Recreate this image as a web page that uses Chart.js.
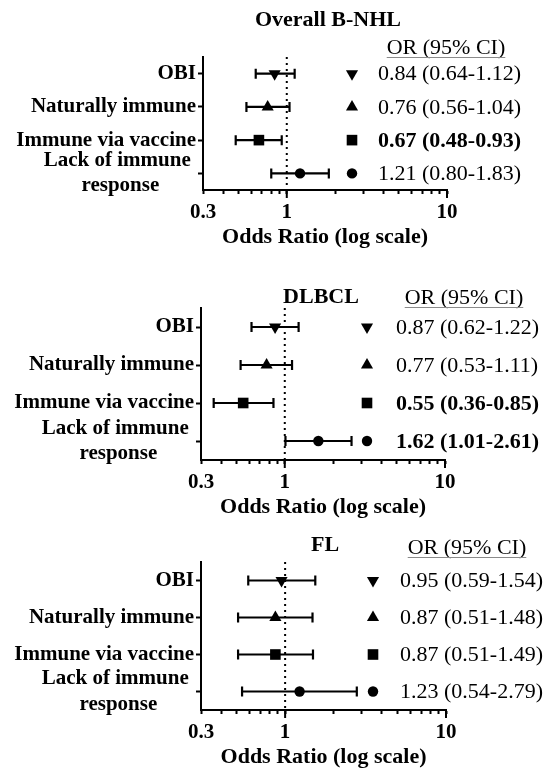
<!DOCTYPE html>
<html><head><meta charset="utf-8">
<script src="https://cdn.jsdelivr.net/npm/chart.js@4/dist/chart.umd.min.js"></script>
<style>
html,body{margin:0;padding:0;background:#fff;}
body{width:550px;height:768px;position:relative;overflow:hidden;}
canvas{position:absolute;left:0;}
</style></head><body>
<canvas id="c1"></canvas>
<canvas id="c2"></canvas>
<canvas id="c3"></canvas>
<script>
// ---------- data ----------
const categories = ['OBI', 'Naturally immune', 'Immune via vaccine', 'Lack of immune response'];
const panelTitles = ['Overall B-NHL', 'DLBCL', 'FL'];

const overallOR   = [0.84, 0.76, 0.67, 1.21];
const overallLow  = [0.64, 0.56, 0.48, 0.80];
const overallHigh = [1.12, 1.04, 0.93, 1.83];

const dlbclOR   = [0.87, 0.77, 0.55, 1.62];
const dlbclLow  = [0.62, 0.53, 0.36, 1.01];
const dlbclHigh = [1.22, 1.11, 0.85, 2.61];

const flOR   = [0.95, 0.87, 0.87, 1.23];
const flLow  = [0.59, 0.51, 0.51, 0.54];
const flHigh = [1.54, 1.48, 1.49, 2.79];

const xTickValues = [0.3, 0.4, 0.5, 0.6, 0.7, 0.8, 0.9, 1, 2, 3, 4, 5, 6, 7, 8, 9, 10];
const xTickLabels = ['0.3', '1', '10'];
const xMin = 0.3, xMax = 10;
const referenceValue = 1;
const xAxisTitle = 'Odds Ratio (log scale)';
const columnHeader = 'OR (95% CI)';

// ---------- styles / layout ----------
const FONT = "'Liberation Serif', 'Times New Roman', serif";
const markerStyles = ['triangle', 'triangle', 'rect', 'circle'];
const markerRotation = [180, 0, 0, 0];
const markerRadius = [7, 7, 7.5, 5.2];

const panelData = [
  {or: overallOR, lo: overallLow, hi: overallHigh},
  {or: dlbclOR, lo: dlbclLow, hi: dlbclHigh},
  {or: flOR, lo: flLow, hi: flHigh}
];
const layouts = [
  {id: 'c1', top: 0,   h: 258, chartTop: 57,  chartBottom: 190, left: 203, right: 447, titleX: 328, titleY: 20,  headX: 446, headY: 48,  markX: 352, textX: 378},
  {id: 'c2', top: 255, h: 275, chartTop: 308, chartBottom: 460, left: 201, right: 445, titleX: 321, titleY: 297, headX: 464, headY: 298, markX: 367, textX: 396},
  {id: 'c3', top: 515, h: 260, chartTop: 562, chartBottom: 710, left: 201, right: 446, titleX: 325, titleY: 545, headX: 467, headY: 548, markX: 373, textX: 400}
];
const TICK_GAP = 23;   // axis line -> tick label centre
const TITLE_GAP = 47;  // axis line -> axis title centre

function fmt(v) { return v.toFixed(2); }

function drawMarker(ctx, i, x, y) {
  ctx.save();
  ctx.fillStyle = '#000';
  ctx.strokeStyle = '#000';
  if (Chart.helpers && Chart.helpers.drawPoint) {
    Chart.helpers.drawPoint(ctx, {pointStyle: markerStyles[i], rotation: markerRotation[i], radius: markerRadius[i], borderWidth: 0}, x, y);
  }
  ctx.restore();
}

layouts.forEach((L, p) => {
  const d = panelData[p];
  const cv = document.getElementById(L.id);
  cv.style.top = L.top + 'px';
  cv.width = 550; cv.height = L.h;
  cv.style.width = '550px'; cv.style.height = L.h + 'px';

  const tickFont = {family: FONT, size: 21, weight: 'bold', lineHeight: 1.2};
  const titleFont = {family: FONT, size: 22, weight: 'bold', lineHeight: 1.2};
  const tickLen = 4;
  const xScaleHeight = TITLE_GAP + 22 * 1.2 / 2;
  const chartTopLocal = L.chartTop - L.top;
  const chartBottomLocal = L.chartBottom - L.top;
  const padBottom = L.h - chartBottomLocal - xScaleHeight;

  const overlay = {
    id: 'forestExtras' + p,
    beforeDatasetsDraw(chart) {
      const ctx = chart.ctx, xs = chart.scales.x, ys = chart.scales.y, ca = chart.chartArea;
      // dotted reference line
      ctx.save();
      ctx.strokeStyle = '#000';
      ctx.lineWidth = 2;
      ctx.setLineDash([2, 4]);
      const rx = xs.getPixelForValue(referenceValue);
      ctx.beginPath(); ctx.moveTo(rx, ca.top); ctx.lineTo(rx, ca.bottom); ctx.stroke();
      ctx.restore();
      // longer major ticks
      ctx.save();
      ctx.strokeStyle = '#000'; ctx.lineWidth = 2;
      xTickLabels.forEach(s => {
        const v = parseFloat(s);
        if (v <= xMin) return;
        const px = xs.getPixelForValue(v);
        ctx.beginPath(); ctx.moveTo(px, ca.bottom); ctx.lineTo(px, ca.bottom + 8); ctx.stroke();
      });
      ctx.restore();
      // error bars
      ctx.save();
      ctx.strokeStyle = '#000'; ctx.lineWidth = 2.2;
      categories.forEach((c, i) => {
        const y = ys.getPixelForValue(i);
        const x1 = xs.getPixelForValue(d.lo[i]);
        const x2 = xs.getPixelForValue(d.hi[i]);
        ctx.beginPath();
        ctx.moveTo(x1, y); ctx.lineTo(x2, y);
        ctx.moveTo(x1, y - 5); ctx.lineTo(x1, y + 5);
        ctx.moveTo(x2, y - 5); ctx.lineTo(x2, y + 5);
        ctx.stroke();
      });
      ctx.restore();
    },
    afterDraw(chart) {
      const ctx = chart.ctx, ys = chart.scales.y;
      ctx.save();
      ctx.fillStyle = '#000';
      ctx.textBaseline = 'middle';
      // panel title
      ctx.font = 'bold 22px ' + FONT;
      ctx.textAlign = 'center';
      ctx.fillText(panelTitles[p], L.titleX, L.titleY - L.top);
      // column header with underline
      ctx.font = '22px ' + FONT;
      ctx.fillText(columnHeader, L.headX, L.headY - L.top);
      const hw = ctx.measureText(columnHeader).width;
      ctx.strokeStyle = '#8a8a8a'; ctx.lineWidth = 1;
      ctx.beginPath();
      ctx.moveTo(L.headX - hw / 2, L.headY - L.top + 9.5);
      ctx.lineTo(L.headX + hw / 2, L.headY - L.top + 9.5);
      ctx.stroke();
      // right column: markers and OR text
      ctx.textAlign = 'left';
      categories.forEach((c, i) => {
        const y = ys.getPixelForValue(i);
        drawMarker(ctx, i, L.markX, y);
        const sig = d.hi[i] < referenceValue || d.lo[i] > referenceValue;
        ctx.font = (sig ? 'bold ' : '') + '22px ' + FONT;
        ctx.fillStyle = '#000';
        ctx.fillText(fmt(d.or[i]) + ' (' + fmt(d.lo[i]) + '-' + fmt(d.hi[i]) + ')', L.textX, y + 1);
      });
      ctx.restore();
    }
  };

  new Chart(cv, {
    type: 'scatter',
    data: {
      datasets: [{
        data: categories.map((c, i) => ({x: d.or[i], y: c})),
        pointStyle: markerStyles,
        rotation: markerRotation,
        pointRadius: markerRadius,
        pointHoverRadius: markerRadius,
        pointBackgroundColor: '#000',
        pointBorderColor: '#000',
        pointBorderWidth: 0,
        showLine: false,
        clip: false
      }]
    },
    options: {
      responsive: false,
      animation: false,
      events: [],
      layout: {padding: {top: chartTopLocal, left: 0, right: 550 - L.right, bottom: padBottom}},
      plugins: {legend: {display: false}, tooltip: {enabled: false}, title: {display: false}},
      scales: {
        x: {
          type: 'logarithmic',
          min: xMin, max: xMax,
          afterBuildTicks(scale) { scale.ticks = xTickValues.map(v => ({value: v})); },
          afterFit(scale) { scale.height = xScaleHeight; },
          border: {display: true, color: '#000', width: 2},
          grid: {display: true, drawOnChartArea: false, drawTicks: true, tickLength: tickLen, tickWidth: 2, tickColor: '#000'},
          ticks: {
            autoSkip: false, maxRotation: 0, minRotation: 0,
            color: '#000', font: tickFont,
            padding: TICK_GAP - tickLen - 21 * 1.2 / 2,
            callback(v) { const s = String(v); return xTickLabels.includes(s) ? s : ''; }
          },
          title: {display: true, text: xAxisTitle, color: '#000', font: titleFont, padding: {top: 0, bottom: 0}}
        },
        y: {
          type: 'category',
          labels: categories,
          offset: true,
          afterFit(scale) { scale.width = L.left; },
          border: {display: true, color: '#000', width: 2},
          grid: {display: true, drawOnChartArea: false, drawTicks: true, tickLength: 5, tickWidth: 2, tickColor: '#000', offset: false},
          ticks: {
            autoSkip: false,
            color: '#000', padding: 2,
            font: {family: FONT, size: 21, weight: 'bold', lineHeight: 1.2},
            callback(v, i) {
              const lab = categories[i];
              if (i === 3) {
                const parts = lab.split(' ');
                return [parts.slice(0, 3).join(' ') + ' ', parts[3] + '       '];
              }
              return lab;
            }
          }
        }
      }
    },
    plugins: [overlay]
  });
});
</script>
</body></html>
